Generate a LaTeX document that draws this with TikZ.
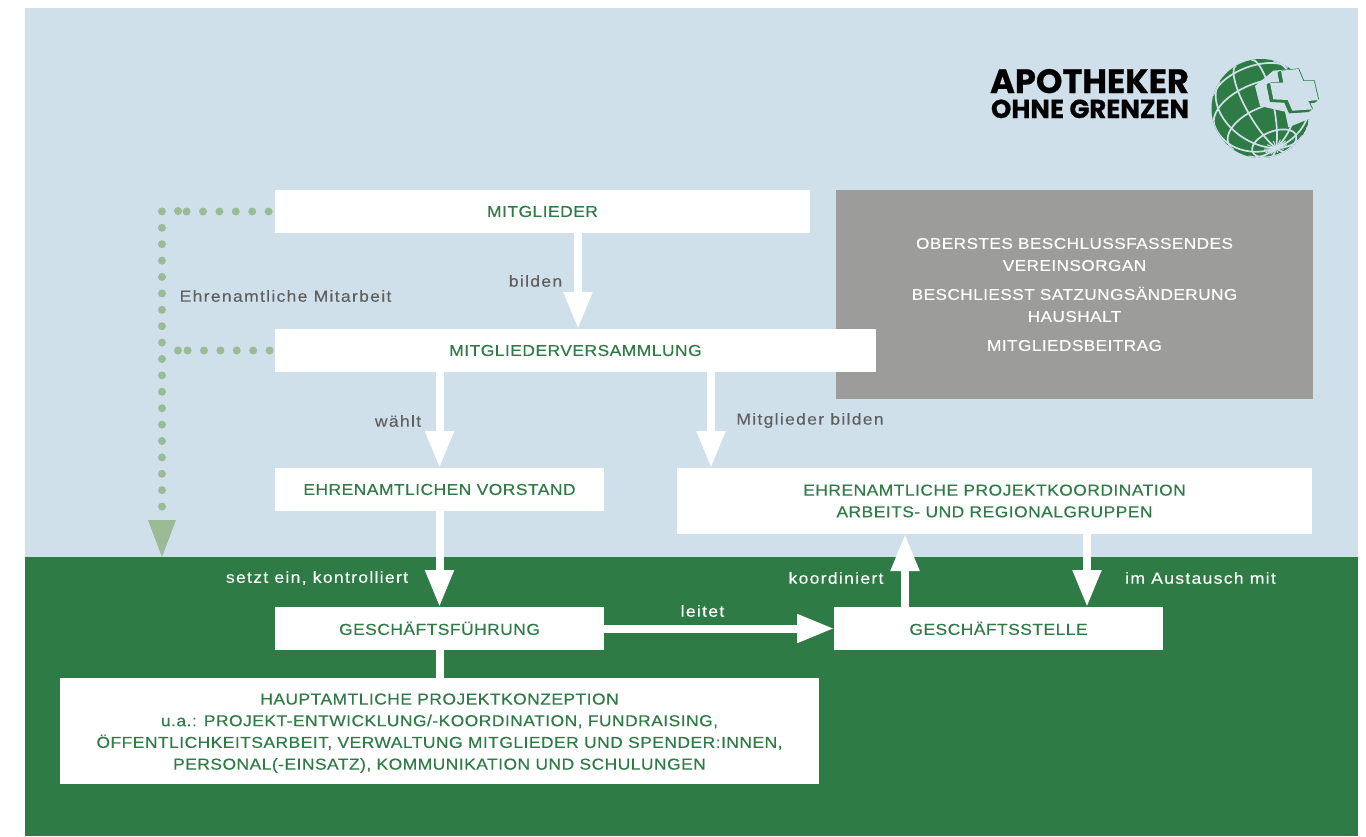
\documentclass[tikz,border=0pt]{standalone}
\usepackage{fontspec}
\usetikzlibrary{arrows.meta}
\setmainfont{Liberation Sans}
\newfontfamily\capsf[LetterSpace=3,FakeStretch=1.1,FakeBold=0.25]{Liberation Sans}
\newfontfamily\lowsf[LetterSpace=8,FakeStretch=1.1,FakeBold=0.15]{Liberation Sans}
\newfontfamily\logof[FakeBold=0.6]{Poppins}
\definecolor{bgblue}{HTML}{CFE0EB}
\definecolor{aogreen}{HTML}{2F7B45}
\definecolor{aogrey}{HTML}{9C9D9B}
\definecolor{dotgreen}{HTML}{9ABB95}
\definecolor{labelgrey}{HTML}{5F5F5F}
\tikzset{
  boxnode/.style={fill=white,text=aogreen,inner sep=0pt,outer sep=0pt,align=center,font=\capsf\fontsize{15.85}{21.7}\selectfont},
  flow/.style={draw=white,line width=8pt,-{Triangle[width=27pt,length=37pt,fill=white]}},
  stem/.style={draw=white,line width=8pt},
  dots/.style={draw=dotgreen,line width=8pt,line cap=round,dash pattern=on 0pt off 16.4pt},
  lab/.style={text=labelgrey,inner sep=0pt,font=\lowsf\fontsize{16}{17}\selectfont},
  labw/.style={text=white,inner sep=0pt,font=\lowsf\fontsize{16}{17}\selectfont},
}
\begin{document}
\begin{tikzpicture}[x=1pt,y=-1pt]
\useasboundingbox (0,0) rectangle (1366,836);
\fill[white] (0,0) rectangle (1366,836);
\fill[bgblue] (25,8) rectangle (1358,557);
\fill[aogreen] (25,557) rectangle (1358,836);
% logo text
\node[inner sep=0pt,text=black,text height=23pt,text depth=0pt,font=\logof\bfseries\fontsize{33.7}{34}\selectfont] (logoa) at (1089.5,81.5) {APOTHEKER};
\node[inner sep=0pt,text=black,text height=17pt,text depth=0pt,font=\logof\bfseries\fontsize{26}{26}\selectfont] (logob) at (1090,109.5) {OHNE GRENZEN};
% globe
\begin{scope}[shift={(1261,108.5)},x=49.5pt,y=49.5pt]
\clip (0,0) circle (1);
\fill[aogreen] (0,0) circle (1);
\foreach \ph in {0,36,...,324}{
  \pgfmathsetmacro\dz{sin(\ph)*0.854}
  \pgfmathsetmacro\tend{atan2(0.52,-\dz)}
  \pgfmathsetmacro\dx{cos(\ph)*0.935+sin(\ph)*(-0.185)}
  \pgfmathsetmacro\dy{cos(\ph)*0.355+sin(\ph)*0.486}
  \draw[bgblue,line width=1.7pt] plot[domain=0:\tend,samples=24,variable=\t] ({sin(\t)*\dx+cos(\t)*0.303},{sin(\t)*\dy-cos(\t)*0.798});
}
\foreach \ph in {18,54,...,342}{
  \pgfmathsetmacro\dx{cos(\ph)*0.935+sin(\ph)*(-0.185)}
  \pgfmathsetmacro\dy{cos(\ph)*0.355+sin(\ph)*0.486}
  \draw[bgblue,line width=1pt] plot[domain=0:14,samples=4,variable=\t] ({sin(\t)*\dx+cos(\t)*0.303},{sin(\t)*\dy-cos(\t)*0.798});
}
\foreach \c in {28,60,90,120}{
  \pgfmathsetmacro\s{max(-1,min(1,-cot(\c)*0.609))}
  \pgfmathsetmacro\a{asin(\s)}
  \pgfmathsetmacro\b{180-\a}
  \draw[bgblue,line width=1.7pt] plot[domain=\a:\b,samples=40,variable=\p] ({sin(\c)*(cos(\p)*0.935+sin(\p)*(-0.185))+cos(\c)*0.303},{sin(\c)*(cos(\p)*0.355+sin(\p)*0.486)-cos(\c)*0.798});
}
\end{scope}
\begin{scope}[shift={(1205,50)},x=0.3333pt,y=-0.3333pt]
% wedge behind the cross
\fill[bgblue] (150,108) -- (205,62) -- (345,50) -- (350,190) -- (316,205) -- (250,232) -- (240,185) -- (165,168) -- cycle;
% extruded sides
\foreach \sx/\sy in {-10/4,-8/3,-6/2,-10/8,-8/7,-5/5,-3/3,0/0,2/-2}{
  \fill[aogreen,shift={(\sx,\sy)}] (228,62) -- (280,57) -- (295,93) -- (327,93) -- (340,150) -- (310,153) -- (322,178) -- (262,182) -- (248,150) -- (205,148) -- (195,98) -- (235,98) -- cycle;
}
\fill[bgblue] (228,62) -- (280,57) -- (295,93) -- (327,93) -- (340,150) -- (310,153) -- (322,178) -- (262,182) -- (248,150) -- (205,148) -- (195,98) -- (235,98) -- cycle;
\end{scope}
% grey panel
\node[fill=aogrey,inner sep=0pt,outer sep=0pt,minimum width=477pt,minimum height=209pt,text=white,align=center,font=\capsf\fontsize{15.6}{22}\selectfont] (info) at (1074.5,294.5)
  {OBERSTES BESCHLUSSFASSENDES\\VEREINSORGAN\\[7pt]BESCHLIESST SATZUNGSÄNDERUNG\\HAUSHALT\\[7pt]MITGLIEDSBEITRAG};
% boxes
\node[boxnode,minimum width=535pt,minimum height=43pt] (mitglieder) at (542.5,211.5) {\raisebox{-0.5pt}{MITGLIEDER}};
\node[boxnode,minimum width=601pt,minimum height=43pt] (mv) at (575.5,350.5) {MITGLIEDERVERSAMMLUNG};
\node[boxnode,minimum width=329pt,minimum height=43pt] (vorstand) at (439.5,489.5) {EHRENAMTLICHEN VORSTAND};
\node[boxnode,minimum width=635pt,minimum height=66pt] (pk) at (994.5,501) {\raisebox{-1pt}{EHRENAMTLICHE PROJEKTKOORDINATION}\\\raisebox{-1pt}{ARBEITS- UND REGIONALGRUPPEN}};
\node[boxnode,minimum width=329pt,minimum height=43pt] (gf) at (439.5,628.5) {\raisebox{0.5pt}{GESCHÄFTSFÜHRUNG}};
\node[boxnode,minimum width=329pt,minimum height=43pt] (gs) at (998.5,628.5) {\raisebox{0.5pt}{GESCHÄFTSSTELLE}};
\node[boxnode,minimum width=759pt,minimum height=106pt,text height=80.5pt] (hp) at (439.5,731) {HAUPTAMTLICHE PROJEKTKONZEPTION\\u.a.: PROJEKT-ENTWICKLUNG/-KOORDINATION, FUNDRAISING,\\ÖFFENTLICHKEITSARBEIT, VERWALTUNG MITGLIEDER UND SPENDER:INNEN,\\PERSONAL(-EINSATZ), KOMMUNIKATION UND SCHULUNGEN};
% connectors
\draw[flow] (578,0 |- mitglieder.south) -- (578,0 |- mv.north);
\draw[flow] (vorstand.north |- mv.south) -- (vorstand.north);
\draw[flow] (711,0 |- mv.south) -- (711,0 |- pk.north);
\draw[flow] (vorstand.south) -- (gf.north);
\draw[stem] (gf.south) -- (hp.north);
\draw[flow] (gf.east) -- (gs.west);
\draw[flow] (905,0 |- gs.north) -- (905,0 |- pk.south);
\draw[flow] (1087,0 |- pk.south) -- (1087,0 |- gs.north);
% dotted connectors
\coordinate (corner) at (162,211);
\coordinate (tip) at (162,557);
\coordinate (dotend) at (162,508);
\draw[dots,dash phase=10pt] (mitglieder.west) -- (186,0 |- mitglieder.west);
\draw[dots] (178,211) -- (corner) -- (dotend);
\draw[dots,dash phase=11pt] (mv.west) -- (186,0 |- mv.west);
\draw[dots] (178,0 |- mv.west) -- (172,0 |- mv.west);
\fill[dotgreen] (148,520) -- (176,520) -- (tip) -- cycle;
% labels
\node[lab] (l1) at (535.5,281) {bilden};
\node[lab] (l2) at (285.5,296) {Ehrenamtliche Mitarbeit};
\node[lab] (l3) at (398,421) {wählt};
\node[lab] (l4) at (810,420.5) {Mitglieder bilden};
\node[labw] (l5) at (317,578) {setzt ein, kontrolliert};
\node[labw] (l6) at (836,578) {koordiniert};
\node[labw] (l7) at (1200.5,578) {im Austausch mit};
\node[labw] (l8) at (702.5,611) {leitet};
\end{tikzpicture}
\end{document}
